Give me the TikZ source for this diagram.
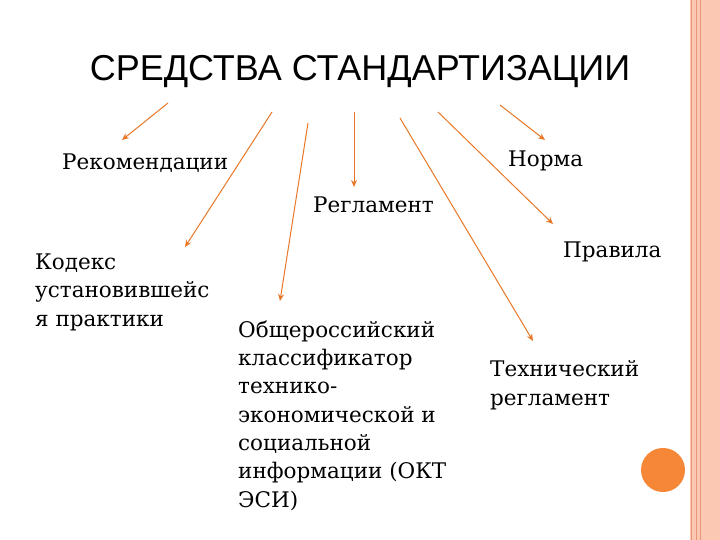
\documentclass[tikz,border=0pt]{standalone}
\usepackage{fontspec}
\setmainfont{DejaVu Serif}
\newfontfamily\titlefont{Liberation Sans}
\usetikzlibrary{arrows.meta}
\definecolor{arr}{RGB}{232,120,40}
\definecolor{peach}{RGB}{251,200,180}
\definecolor{stripe}{RGB}{236,150,120}
\definecolor{dot}{RGB}{245,135,55}
\begin{document}
\begin{tikzpicture}[x=1pt,y=-1pt,
  lbl/.style={font=\fontsize{21.5}{28.3}\selectfont,inner sep=0pt,align=left,anchor=base west},
  ar/.style={draw=arr,line width=1pt,-{Stealth[length=7pt,width=6pt]}}]
\useasboundingbox (0,0) rectangle (720,540);
\fill[white] (0,0) rectangle (720,540);
\fill[peach] (690,0) rectangle (720,540);
\draw[stripe,line width=0.8pt] (691,0) -- (691,540);
\draw[stripe,line width=0.8pt] (696,0) -- (696,540);
\draw[stripe,line width=0.6pt] (700,0) -- (700,540);
\fill[dot] (663,470) circle (22);
\node[inner sep=0pt,font=\titlefont\fontsize{36}{38}\selectfont] (t) at (360,72) {СРЕДСТВА СТАНДАРТИЗАЦИИ};
\node[lbl] (rek) at (62,170) {Рекомендации};
\node[lbl] (nor) at (508,167) {Норма};
\node[lbl] (reg) at (313,212) {Регламент};
\node[lbl] (pra) at (563,257) {Правила};
\node[lbl] (kod) at (35,326) {Кодекс\\установившейс\\я практики};
\node[lbl] (obs) at (238,507) {Общероссийский\\классификатор\\технико-\\экономической и\\социальной\\информации (ОКТ\\ЭСИ)};
\node[lbl] (teh) at (490,405) {Технический\\регламент};
\coordinate (s1) at (168,103); \coordinate (e1) at (122,140);
\coordinate (s2) at (272,112); \coordinate (e2) at (185,247);
\coordinate (s3) at (308,123); \coordinate (e3) at (280,301);
\coordinate (s4) at (354,112); \coordinate (e4) at (354,187);
\coordinate (s5) at (400,118); \coordinate (e5) at (533,341);
\coordinate (s6) at (438,112); \coordinate (e6) at (553,224);
\coordinate (s7) at (500,105); \coordinate (e7) at (545,140);
\foreach \i in {1,...,7} \draw[ar] (s\i) -- (e\i);
\end{tikzpicture}
\end{document}
